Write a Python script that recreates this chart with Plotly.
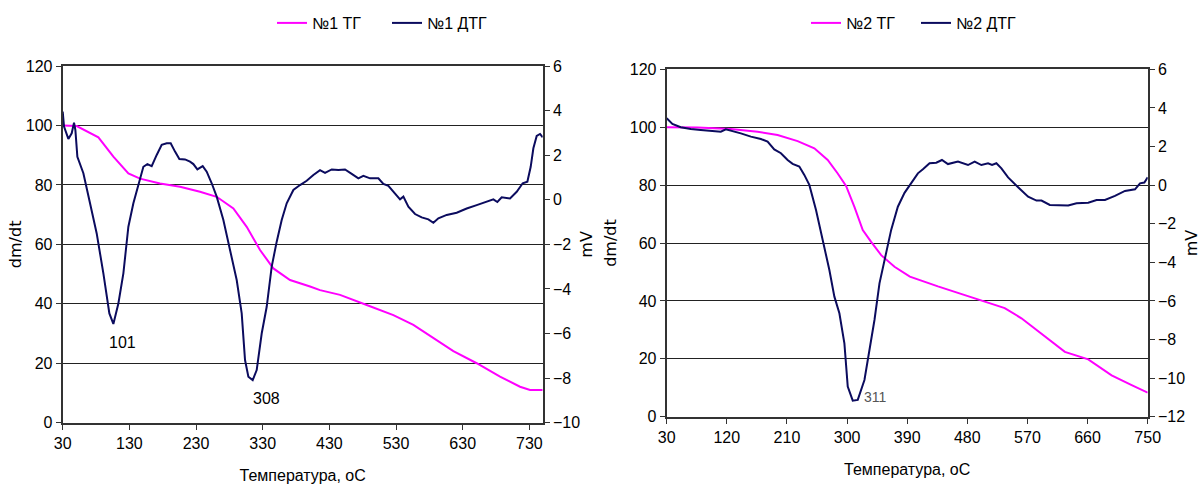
import plotly.graph_objects as go

# ---------- Sample 1 ----------
t1_tg = [30, 51, 83.5, 106, 128.5, 146, 176, 206, 236, 261, 286, 306, 326, 346, 371,
         386, 401, 416, 446, 486, 526, 556, 586, 616, 651, 686, 716, 731, 750]
tg1 = [100, 99.8, 96, 89.5, 83.9, 82.1, 80.5, 79.4, 77.7, 76, 72.1, 65.9, 58.1, 51.9, 48,
       47, 45.8, 44.6, 43, 39.6, 36.2, 32.9, 28.4, 24.1, 20, 15.5, 12.1, 11, 11]

t1_dtg = [30, 32, 38.5, 43.5, 47, 49, 52, 61, 71, 81, 91, 100, 106, 113.5, 121, 128.5, 136,
          143.5, 151, 157, 163.5, 171, 178.5, 186, 192, 198.5, 205, 213.5, 221, 226, 232, 240,
          246, 253.5, 261, 271, 281, 291, 298.5, 303.5, 308.5, 315, 321, 328.5, 336, 343.5,
          351, 358.5, 366, 376, 386, 396, 406, 416, 423.5, 433.5, 443.5, 453.5, 463.5, 473.5,
          481, 491, 503.5, 511, 518.5, 528.5, 536, 541, 548.5, 558.5, 568.5, 578.5, 586,
          593.5, 606, 621, 636, 651, 666, 676, 682, 688.5, 701, 711, 720, 727, 732, 736, 741,
          746, 750]
dtg1 = [3.95, 3.28, 2.73, 2.98, 3.46, 3.13, 1.93, 1.19, -0.16, -1.51, -3.3, -5.1, -5.57,
        -4.65, -3.3, -1.21, -0.16, 0.66, 1.48, 1.6, 1.51, 2.01, 2.46, 2.53, 2.53, 2.16, 1.83,
        1.81, 1.71, 1.6, 1.36, 1.51, 1.26, 0.74, 0.14, -0.91, -2.25, -3.6, -5.1, -7.19, -7.94,
        -8.09, -7.64, -6.0, -4.8, -3.0, -1.88, -0.91, -0.16, 0.44, 0.66, 0.85, 1.11, 1.33,
        1.21, 1.36, 1.33, 1.36, 1.16, 0.96, 1.07, 0.96, 0.96, 0.71, 0.62, 0.29, 0.02, 0.14,
        -0.31, -0.64, -0.79, -0.88, -1.03, -0.83, -0.68, -0.58, -0.39, -0.24, -0.09, 0.02,
        -0.1, 0.11, 0.06, 0.36, 0.74, 0.81, 1.48, 2.31, 2.86, 2.95, 2.8]

# ---------- Sample 2 ----------
t2_tg = [30, 76, 126, 166, 196, 226, 251, 271, 286, 298.5, 311, 323.5, 336, 351, 371, 394,
         436, 466, 501, 536, 561, 596, 626, 661, 696, 726, 750]
tg2 = [100, 99.9, 99.4, 98.4, 97.3, 95.2, 92.7, 88.7, 84, 79.7, 72.5, 64.5, 60.4, 55.8,
       51.8, 48.4, 45, 42.7, 40.1, 37.5, 34, 27.6, 22.4, 19.8, 14.3, 10.9, 8.3]

t2_dtg = [30, 38.5, 51, 66, 81, 96, 111, 118.5, 128.5, 141, 156, 171, 181, 191, 201, 211,
          218.5, 228.5, 236, 243.5, 253.5, 263.5, 273.5, 281, 288.5, 296, 301, 308.5, 316,
          326, 333.5, 341, 348.5, 356, 366, 376, 386, 396, 406, 413.5, 423.5, 433.5, 442,
          451, 466, 481, 491, 501, 511, 517, 523.5, 531, 541, 556, 571, 583.5, 591, 603.5,
          618.5, 631, 643.5, 661, 673.5, 686, 701, 716, 731, 738.5, 745, 750]
dtg2 = [3.46, 3.17, 3.0, 2.91, 2.86, 2.82, 2.77, 2.89, 2.8, 2.68, 2.51, 2.39, 2.25, 1.85,
        1.65, 1.3, 1.1, 0.96, 0.53, 0.01, -1.29, -2.84, -4.4, -5.78, -6.64, -8.2, -10.44,
        -11.17, -11.13, -10.1, -8.54, -6.99, -5.09, -3.88, -2.32, -1.12, -0.4, 0.1, 0.61,
        0.82, 1.13, 1.16, 1.3, 1.09, 1.22, 1.04, 1.22, 1.04, 1.13, 1.04, 1.13, 0.87, 0.4,
        -0.11, -0.6, -0.8, -0.8, -1.03, -1.03, -1.06, -0.94, -0.91, -0.77, -0.77, -0.56,
        -0.3, -0.22, 0.09, 0.13, 0.4]

x_ticks1 = [30, 130, 230, 330, 430, 530, 630, 730]
x_ticks2 = [30, 120, 210, 300, 390, 480, 570, 660, 750]
peak_labels1 = [(120, 27, "101"), (336, 8.2, "308")]
peak_labels2 = [(342, 6.7, "311")]

MAG = "#FF00FF"
NAVY = "#0B0B5E"
NARROW = "Liberation Sans Narrow, Arial Narrow, Liberation Sans, Arial, sans-serif"
WIDE = "Verdana, DejaVu Sans, sans-serif"

W, H = 1204, 488
ML, MR, MT, MB = 40, 40, 50, 50
PW, PH = W - ML - MR, H - MT - MB


def xd(a, b):
    return [(a - ML) / PW, (b - ML) / PW]


def yd(top, bottom):
    return [(H - MB - bottom) / PH, (H - MB - top) / PH]


fig = go.Figure()
fig.add_trace(go.Scatter(x=t1_tg, y=tg1, name="№1 ТГ", mode="lines",
                         line=dict(color=MAG, width=2), xaxis="x", yaxis="y", legend="legend"))
fig.add_trace(go.Scatter(x=t1_dtg, y=dtg1, name="№1 ДТГ", mode="lines",
                         line=dict(color=NAVY, width=2), xaxis="x", yaxis="y2", legend="legend"))
fig.add_trace(go.Scatter(x=t2_tg, y=tg2, name="№2 ТГ", mode="lines",
                         line=dict(color=MAG, width=2), xaxis="x2", yaxis="y3", legend="legend2"))
fig.add_trace(go.Scatter(x=t2_dtg, y=dtg2, name="№2 ДТГ", mode="lines",
                         line=dict(color=NAVY, width=2), xaxis="x2", yaxis="y4", legend="legend2"))

tickfont = dict(family=NARROW, size=16, color="#000")
title_font = dict(family=WIDE, size=16, color="#000")
common_x = dict(showline=True, linecolor="#333", linewidth=2, mirror=True, ticks="outside",
                ticklen=5, tickcolor="#333", showgrid=False, zeroline=False, tickfont=tickfont,
                automargin=False,
                title=dict(text="Температура, оС", font=dict(family=NARROW, size=16, color="#000"),
                           standoff=19))
common_yl = dict(showline=True, linecolor="#333", linewidth=2, ticks="outside", ticklen=5,
                 tickcolor="#333", showgrid=True, gridcolor="#222", gridwidth=1, zeroline=False,
                 tickfont=tickfont, range=[0, 120], dtick=20, tick0=0, automargin=False)
common_yr = dict(showline=True, linecolor="#333", linewidth=2, ticks="outside", ticklen=5,
                 tickcolor="#333", showgrid=False, zeroline=False, tickfont=tickfont,
                 dtick=2, side="right", automargin=False,
                 title=dict(text="mV", font=title_font, standoff=2))

legfont = dict(family=NARROW, size=16, color="#000")
fig.update_layout(
    width=W, height=H,
    margin=dict(l=ML, r=MR, t=MT, b=MB, autoexpand=False),
    paper_bgcolor="white", plot_bgcolor="white",
    xaxis=dict(domain=xd(62.7, 542.7), anchor="y", range=[30, 750],
               tickvals=x_ticks1, **common_x),
    yaxis=dict(domain=yd(66, 422.7), anchor="x",
               title=dict(text="dm/dt", font=title_font, standoff=0), **common_yl),
    yaxis2=dict(overlaying="y", anchor="x", range=[-10, 6], tick0=-10, **common_yr),
    xaxis2=dict(domain=xd(666.7, 1147.7), anchor="y3", range=[30, 750],
                tickvals=x_ticks2, **common_x),
    yaxis3=dict(domain=yd(69.3, 416.7), anchor="x2",
                title=dict(text="dm/dt", font=title_font, standoff=9), **common_yl),
    yaxis4=dict(overlaying="y3", anchor="x2", range=[-12, 6], tick0=-12, **common_yr),
    legend=dict(orientation="h", xref="container", yref="container",
                x=272 / W, y=1 - 23 / H, xanchor="left", yanchor="middle",
                font=legfont, itemwidth=30, entrywidth=70, bgcolor="rgba(0,0,0,0)"),
    legend2=dict(orientation="h", xref="container", yref="container",
                 x=806 / W, y=1 - 23 / H, xanchor="left", yanchor="middle",
                 font=legfont, itemwidth=30, entrywidth=65, bgcolor="rgba(0,0,0,0)"),
    showlegend=True,
)

for (xv, yv, txt) in peak_labels1:
    fig.add_annotation(x=xv, y=yv, xref="x", yref="y", text=txt, showarrow=False,
                       font=dict(family=NARROW, size=16, color="#000"))
for (xv, yv, txt) in peak_labels2:
    fig.add_annotation(x=xv, y=yv, xref="x2", yref="y3", text=txt, showarrow=False,
                       font=dict(family=NARROW, size=14, color="#555"))

fig.write_html("out.html", config={"displayModeBar": False},
               post_script="document.body.style.margin='0';document.body.style.overflow='hidden';")
